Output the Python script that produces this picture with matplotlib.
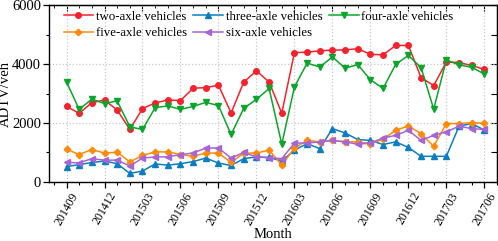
import matplotlib.pyplot as plt
import numpy as np
from matplotlib.ticker import MultipleLocator

plt.rcParams['font.family'] = ['Liberation Serif', 'DejaVu Serif']

# Month labels 201409 .. 201706
months = []
for y in (2014, 2015, 2016, 2017):
    for m in range(1, 13):
        if (y == 2014 and m < 9) or (y == 2017 and m > 6):
            continue
        months.append(f"{y}{m:02d}")

two_axle = [2560, 2330, 2690, 2780, 2440, 1780, 2490, 2680, 2780, 2760,
            3180, 3200, 3280, 2340, 3390, 3770, 3390, 2330, 4390, 4400,
            4450, 4470, 4480, 4520, 4330, 4310, 4630, 4630, 3540, 3270,
            4070, 4050, 3950, 3820]
three_axle = [520, 590, 660, 710, 620, 290, 370, 610, 570, 620,
              690, 810, 640, 560, 790, 850, 830, 710, 1080, 1300,
              1130, 1810, 1660, 1440, 1410, 1270, 1360, 1170, 870, 870,
              870, 1890, 1980, 1760]
four_axle = [3390, 2460, 2810, 2660, 2750, 1870, 1780, 2520, 2580, 2460,
             2560, 2700, 2590, 1610, 2500, 2800, 3170, 1280, 3220, 4030,
             3900, 4240, 3860, 3980, 3470, 3170, 3990, 4290, 3880, 2470,
             4140, 3970, 3890, 3660]
five_axle = [1110, 930, 1100, 980, 1010, 680, 900, 1020, 1020, 930,
             870, 980, 980, 660, 980, 980, 1080, 570, 1150, 1410,
             1360, 1410, 1360, 1360, 1300, 1450, 1750, 1900, 1640, 1210,
             1980, 1980, 2010, 1990]
six_axle = [660, 650, 790, 740, 740, 540, 810, 850, 850, 930,
            980, 1150, 1150, 810, 1000, 850, 820, 790, 1320, 1320,
            1360, 1410, 1360, 1280, 1320, 1490, 1580, 1750, 1410, 1580,
            1700, 1890, 1810, 1780]

series = [
    ("two-axle vehicles", two_axle, "#f5222d", "o"),
    ("three-axle vehicles", three_axle, "#0b7dc1", "^"),
    ("four-axle vehicles", four_axle, "#0aa52a", "v"),
    ("five-axle vehicles", five_axle, "#ff8a0a", "D"),
    ("six-axle vehicles", six_axle, "#a565d6", "<"),
]

x = np.arange(len(months))

fig = plt.figure(figsize=(4.98, 2.41), dpi=100)
ax = fig.add_axes([0.098, 0.245, 0.9, 0.734])

lines = []
for name, vals, col, mk in series:
    ln, = ax.plot(x, vals, color=col, marker=mk,
                  markersize=4 if mk != "D" else 3.3,
                  linewidth=1.1, label=name)
    lines.append(ln)

ax.set_xlim(-1.4, 34.0)
ax.set_ylim(0, 6000)
ax.set_xticks(x[::3])
ax.set_xticklabels(months[::3], rotation=60, fontsize=8.5)
ax.xaxis.set_minor_locator(MultipleLocator(1))
ax.yaxis.set_major_locator(MultipleLocator(2000))
ax.yaxis.set_minor_locator(MultipleLocator(1000))
ax.tick_params(axis='y', labelsize=10.5, pad=1.5)
ax.tick_params(axis='x', pad=2)
ax.tick_params(which='major', length=4, width=0.9)
ax.tick_params(which='minor', length=2.5, width=0.8)
ax.grid(True, which='major', linestyle=':', color='#c8c8c8', linewidth=0.9)

# inward ticks on top and right
top = ax.secondary_xaxis('top')
top.set_xticks(x[::3])
top.xaxis.set_minor_locator(MultipleLocator(1))
top.tick_params(which='both', direction='in', labeltop=False)
top.tick_params(which='major', length=4)
top.tick_params(which='minor', length=2.5)
right = ax.secondary_yaxis('right')
right.yaxis.set_major_locator(MultipleLocator(1000))
right.tick_params(direction='in', labelright=False, length=4)

for s in ax.spines.values():
    s.set_linewidth(1.0)

ax.set_xlabel("Month", fontsize=10.5)
ax.xaxis.set_label_coords(0.5, -0.26)
ax.set_ylabel("ADTV/veh", fontsize=10.5)
ax.yaxis.set_label_coords(-0.082, 0.5)

# row-wise legend order: two, three, four / five, six
order = [0, 3, 1, 4, 2]
ax.legend([lines[i] for i in order], [series[i][0] for i in order],
          loc='upper left', ncol=3, frameon=False, fontsize=9.3,
          handlelength=2.3, columnspacing=0.5, handletextpad=0.2,
          labelspacing=0.35, borderaxespad=0.0, borderpad=0.45,
          bbox_to_anchor=(0.02, 1.0))

fig.savefig("out.png", dpi=100)
